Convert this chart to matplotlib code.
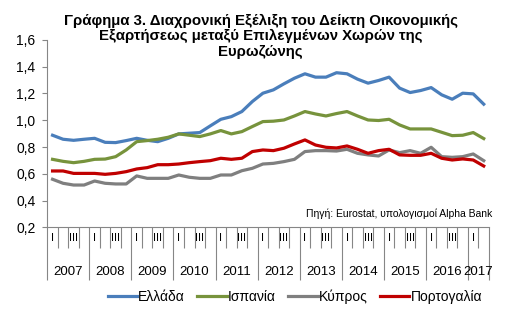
import matplotlib
matplotlib.use("Agg")
from matplotlib import pyplot as plt, transforms
import numpy as np

plt.rcParams['font.family'] = ['Liberation Sans', 'DejaVu Sans']

# quarterly data, 2007 Q1 .. 2017 Q2
years = ['2007', '2008', '2009', '2010', '2011', '2012', '2013', '2014', '2015', '2016', '2017']
quarter_labels = ['I', '', 'III', '']

greece = [0.888, 0.858, 0.850, 0.858, 0.865, 0.835, 0.833, 0.848, 0.865, 0.850, 0.840, 0.865, 0.898, 0.903,
          0.908, 0.958, 1.007, 1.027, 1.065, 1.140, 1.202, 1.227, 1.272, 1.314, 1.347, 1.322, 1.322, 1.355,
          1.347, 1.307, 1.277, 1.297, 1.322, 1.240, 1.207, 1.222, 1.244, 1.190, 1.157, 1.202, 1.197, 1.120]
spain = [0.708, 0.693, 0.683, 0.693, 0.708, 0.710, 0.728, 0.778, 0.840, 0.848, 0.858, 0.873, 0.898, 0.888,
         0.878, 0.898, 0.923, 0.898, 0.915, 0.953, 0.990, 0.993, 1.002, 1.032, 1.065, 1.047, 1.032, 1.050,
         1.065, 1.032, 1.002, 0.998, 1.007, 0.965, 0.935, 0.935, 0.935, 0.910, 0.885, 0.888, 0.908, 0.863]
cyprus = [0.559, 0.529, 0.516, 0.516, 0.546, 0.529, 0.524, 0.524, 0.584, 0.566, 0.566, 0.566, 0.591, 0.574,
          0.566, 0.566, 0.591, 0.591, 0.623, 0.641, 0.673, 0.678, 0.691, 0.708, 0.766, 0.773, 0.773, 0.770,
          0.783, 0.753, 0.741, 0.733, 0.778, 0.758, 0.773, 0.753, 0.798, 0.728, 0.723, 0.728, 0.748, 0.698]
portugal = [0.621, 0.621, 0.603, 0.603, 0.603, 0.596, 0.603, 0.616, 0.636, 0.646, 0.668, 0.668, 0.673, 0.683,
            0.691, 0.698, 0.716, 0.708, 0.716, 0.766, 0.778, 0.773, 0.791, 0.823, 0.853, 0.815, 0.798, 0.793,
            0.808, 0.783, 0.753, 0.773, 0.783, 0.741, 0.738, 0.738, 0.753, 0.716, 0.703, 0.711, 0.703, 0.658]

series = [('Ελλάδα', greece, '#4A7EBB'),
          ('Ισπανία', spain, '#77933C'),
          ('Κύπρος', cyprus, '#7F7F7F'),
          ('Πορτογαλία', portugal, '#C00000')]

AXIS_COL = '#868686'
n = len(greece)
x = np.arange(n) + 0.5

fig = plt.figure(figsize=(5.13, 3.22), dpi=100)
ax = fig.add_axes([0.0922, 0.294, 0.861, 0.582])

for name, vals, col in series:
    ax.plot(x, vals, color=col, lw=2.3, label=name, solid_joinstyle='round')

ax.set_xlim(0, n)
ax.set_ylim(0.2, 1.6)
ax.set_yticks(np.arange(0.2, 1.61, 0.2))
ax.set_yticklabels([f'{v:.1f}'.replace('.', ',') for v in np.arange(0.2, 1.61, 0.2)], fontsize=10)
ax.tick_params(axis='y', direction='out', length=3.5, width=0.8, color=AXIS_COL, pad=5)

for s in ['top', 'right']:
    ax.spines[s].set_visible(False)
for s in ['left', 'bottom']:
    ax.spines[s].set_color(AXIS_COL)
    ax.spines[s].set_linewidth(0.8)

# quarter boundary ticks (short) and year separators (long)
year_bounds = list(range(0, n, 4)) + [n]
ax.set_xticks([b for b in range(n + 1) if b not in year_bounds], minor=True)
ax.set_xticks(year_bounds)
ax.set_xticklabels([])
ax.tick_params(axis='x', which='minor', direction='out', length=15, width=0.8, color=AXIS_COL)
ax.tick_params(axis='x', which='major', direction='out', length=38, width=0.8, color=AXIS_COL)

trans = transforms.blended_transform_factory(ax.transData, ax.transAxes)
for i in range(n):
    lab = quarter_labels[i % 4]
    if lab:
        ax.text(i + 0.5, -0.055, lab, transform=trans, ha='center', va='center', fontsize=8)
for k, yr in enumerate(years):
    lo = 4 * k
    hi = min(lo + 4, n)
    ax.text((lo + hi) / 2, -0.24, yr, transform=trans, ha='center', va='center', fontsize=9.5)

ax.text(1.007, 0.075, 'Πηγή: Eurostat, υπολογισμοί Alpha Bank', transform=ax.transAxes,
        ha='right', va='center', fontsize=7.5)

fig.text(0.508, 0.958, 'Γράφημα 3. Διαχρονική Εξέλιξη του Δείκτη Οικονομικής\n'
         'Εξαρτήσεως μεταξύ Επιλεγμένων Χωρών της\nΕυρωζώνης',
         ha='center', va='top', fontsize=10.8, fontweight='bold', linespacing=1.15)

fig.legend(loc='center', bbox_to_anchor=(0.575, 0.078), ncol=4, frameon=False, fontsize=10,
           handlelength=2.1, handletextpad=0.1, columnspacing=0.9)

fig.savefig('out.png', dpi=100)
